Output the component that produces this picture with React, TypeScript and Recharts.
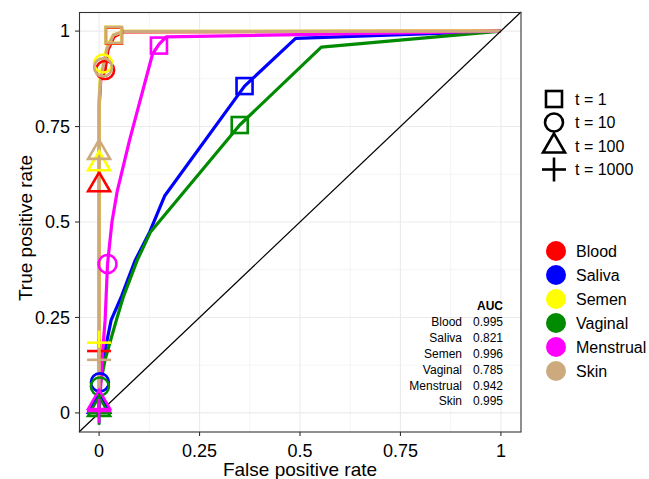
import React from "react";
import { ComposedChart, Line, Scatter, XAxis, YAxis, ReferenceLine, CartesianGrid } from "recharts";

// ---------- data ----------
const sampleNames = ["Blood", "Saliva", "Semen", "Vaginal", "Menstrual", "Skin"];
const aucValues = ["0.995", "0.821", "0.996", "0.785", "0.942", "0.995"];
const thresholdLabels = ["t = 1", "t = 10", "t = 100", "t = 1000"];
const xTicks = [0, 0.25, 0.5, 0.75, 1];
const yTicks = [0, 0.25, 0.5, 0.75, 1];
const minorTicks = [0.125, 0.375, 0.625, 0.875];

// ROC curves (false positive rate, true positive rate)
const bloodFpr = [0, 0, 0, 0, 0.004, 0.015, 0.022, 0.037, 0.06, 1];
const bloodTpr = [0, 0.162, 0.6, 0.8, 0.87, 0.898, 0.95, 0.985, 0.998, 1];
const salivaFpr = [0, 0, 0.002, 0.012, 0.03, 0.056, 0.09, 0.126, 0.163, 0.362, 0.489, 1];
const salivaTpr = [0, 0.02, 0.08, 0.15, 0.243, 0.306, 0.4, 0.474, 0.568, 0.856, 0.981, 1];
const semenFpr = [0, 0, 0, 0, 0.003, 0.01, 0.02, 0.035, 0.06, 1];
const semenTpr = [0, 0.184, 0.655, 0.82, 0.88, 0.915, 0.96, 0.99, 0.999, 1];
const vaginalFpr = [0, 0, 0.002, 0.015, 0.043, 0.061, 0.095, 0.128, 0.35, 0.553, 1];
const vaginalTpr = [0, 0.012, 0.069, 0.14, 0.243, 0.306, 0.4, 0.474, 0.754, 0.958, 1];
const menstrualFpr = [0, 0.002, 0.008, 0.015, 0.021, 0.032, 0.045, 0.076, 0.133, 0.149, 0.167, 1];
const menstrualTpr = [0, 0.03, 0.15, 0.243, 0.39, 0.5, 0.58, 0.715, 0.94, 0.965, 0.985, 1];
const skinFpr = [0, 0, 0, 0, 0.003, 0.01, 0.02, 0.036, 0.06, 1];
const skinTpr = [0, 0.139, 0.685, 0.82, 0.87, 0.905, 0.955, 0.99, 0.999, 1];

// threshold markers: t = 1, 10, 100, 1000
const bloodMarkFpr = [0.037, 0.015, 0, 0];
const bloodMarkTpr = [0.988, 0.898, 0.6, 0.162];
const salivaMarkFpr = [0.362, 0.002, 0, 0];
const salivaMarkTpr = [0.856, 0.08, 0.02, 0.003];
const semenMarkFpr = [0.035, 0.01, 0, 0];
const semenMarkTpr = [0.99, 0.915, 0.655, 0.184];
const vaginalMarkFpr = [0.35, 0.002, 0, 0];
const vaginalMarkTpr = [0.754, 0.069, 0.012, 0];
const menstrualMarkFpr = [0.149, 0.021, 0, 0];
const menstrualMarkTpr = [0.962, 0.39, 0.03, 0.005];
const skinMarkFpr = [0.036, 0.01, 0, 0];
const skinMarkTpr = [0.99, 0.905, 0.685, 0.139];

// ---------- styles ----------
const colors = ["#FF0000", "#0000FF", "#FFFF00", "#008B00", "#FF00FF", "#CDAA7D"];
const FONT = "'Liberation Sans', Arial, Helvetica, sans-serif";

const curveSets = [
  [bloodFpr, bloodTpr],
  [salivaFpr, salivaTpr],
  [semenFpr, semenTpr],
  [vaginalFpr, vaginalTpr],
  [menstrualFpr, menstrualTpr],
  [skinFpr, skinTpr],
];
const markSets = [
  [bloodMarkFpr, bloodMarkTpr],
  [salivaMarkFpr, salivaMarkTpr],
  [semenMarkFpr, semenMarkTpr],
  [vaginalMarkFpr, vaginalMarkTpr],
  [menstrualMarkFpr, menstrualMarkTpr],
  [skinMarkFpr, skinMarkTpr],
];

const curveData = curveSets.map(([fx, ty]) => fx.map((x, i) => ({ x, y: ty[i] })));
const markData = markSets.map(([fx, ty]) => fx.map((x, i) => ({ x, y: ty[i], kind: i })));

const SW = 2.6;

function shapeEl(kind: number, cx: number, cy: number, color: string, key?: string) {
  if (kind === 0) {
    return <rect key={key} x={cx - 8} y={cy - 8} width={16} height={16} fill="none" stroke={color} strokeWidth={SW} />;
  }
  if (kind === 1) {
    return <circle key={key} cx={cx} cy={cy} r={9} fill="none" stroke={color} strokeWidth={SW} />;
  }
  if (kind === 2) {
    const pts = `${cx},${cy - 11.5} ${cx - 11},${cy + 7.5} ${cx + 11},${cy + 7.5}`;
    return <polygon key={key} points={pts} fill="none" stroke={color} strokeWidth={SW} strokeLinejoin="miter" />;
  }
  return (
    <g key={key}>
      <line x1={cx - 12} y1={cy} x2={cx + 12} y2={cy} stroke={color} strokeWidth={SW} />
      <line x1={cx} y1={cy - 12} x2={cx} y2={cy + 12} stroke={color} strokeWidth={SW} />
    </g>
  );
}

const makeShape = (color: string) => (props: any) => {
  const { cx, cy, payload } = props;
  if (cx == null || cy == null) return <g />;
  return shapeEl(payload.kind, cx, cy, color);
};

const fmt = (v: number) => String(v);

export default function App() {
  const W = 649;
  const H = 479;
  const shapeLegendY = [99, 122.5, 146, 169.5];
  const colorLegendY = [251, 275, 299, 323, 347, 371];
  const aucRowY = [322, 338, 354, 370, 385.5, 401];
  return (
    <div style={{ position: "absolute", left: 0, top: 0, width: W, height: H, background: "#fff" }}>
      <ComposedChart width={W} height={H} margin={{ top: 12, right: 128, bottom: 17, left: 0 }}>
        <CartesianGrid horizontalValues={minorTicks} verticalValues={minorTicks} stroke="#EBEBEB" strokeWidth={0.55} />
        <CartesianGrid horizontalValues={yTicks} verticalValues={xTicks} stroke="#EBEBEB" strokeWidth={1.1} />
        <XAxis
          type="number"
          dataKey="x"
          domain={[-0.05, 1.05]}
          ticks={xTicks}
          tickFormatter={fmt}
          allowDataOverflow
          axisLine={false}
          tickLine={{ stroke: "#333333", strokeWidth: 1.1 }}
          tickSize={4}
          tickMargin={8}
          height={30}
          tick={{ fill: "#000", fontSize: 18, fontFamily: FONT }}
        />
        <YAxis
          type="number"
          dataKey="y"
          domain={[-0.05, 1.05]}
          ticks={yTicks}
          tickFormatter={fmt}
          allowDataOverflow
          axisLine={false}
          tickLine={{ stroke: "#333333", strokeWidth: 1.1 }}
          tickSize={4}
          tickMargin={5}
          width={79}
          tick={{ fill: "#000", fontSize: 18, fontFamily: FONT }}
        />
        {curveData.map((d, i) => (
          <Line
            key={"l" + i}
            data={d}
            dataKey="y"
            type="linear"
            stroke={colors[i]}
            strokeWidth={3.2}
            dot={false}
            activeDot={false}
            isAnimationActive={false}
            strokeLinejoin="round"
          />
        ))}
        <ReferenceLine
          segment={[
            { x: -0.05, y: -0.05 },
            { x: 1.05, y: 1.05 },
          ]}
          stroke="#000"
          strokeWidth={1.2}
        />
        {markData.map((d, i) => (
          <Scatter key={"s" + i} data={d} dataKey="y" shape={makeShape(colors[i])} isAnimationActive={false} />
        ))}
      </ComposedChart>
      <svg
        width={W}
        height={H}
        style={{ position: "absolute", left: 0, top: 0, pointerEvents: "none" }}
        fontFamily={FONT}
      >
        <rect x={79.5} y={12.5} width={441.5} height={419.5} fill="none" stroke="#333333" strokeWidth={1.1} />
        <text x={300} y={476} textAnchor="middle" fontSize={19} fill="#000">
          False positive rate
        </text>
        <text x={31.5} y={228} textAnchor="middle" fontSize={19} fill="#000" transform="rotate(-90 31.5 228)">
          True positive rate
        </text>
        {thresholdLabels.map((lab, i) => (
          <g key={"tl" + i}>
            {shapeEl(i, 554, shapeLegendY[i] + (i === 2 ? -1 : 0), "#000")}
            <text x={575} y={shapeLegendY[i]} dy="0.36em" fontSize={16} fill="#000">
              {lab}
            </text>
          </g>
        ))}
        {sampleNames.map((name, i) => (
          <g key={"cl" + i}>
            <circle cx={556} cy={colorLegendY[i]} r={10} fill={colors[i]} />
            <text x={576} y={colorLegendY[i]} dy="0.36em" fontSize={16} fill="#000">
              {name}
            </text>
          </g>
        ))}
        <text x={503} y={306} dy="0.36em" fontSize={12} fontWeight="bold" textAnchor="end" fill="#000">
          AUC
        </text>
        {sampleNames.map((name, i) => (
          <g key={"auc" + i}>
            <text x={462} y={aucRowY[i]} dy="0.36em" fontSize={12} textAnchor="end" fill="#000">
              {name}
            </text>
            <text x={503} y={aucRowY[i]} dy="0.36em" fontSize={12} textAnchor="end" fill="#000">
              {aucValues[i]}
            </text>
          </g>
        ))}
      </svg>
    </div>
  );
}
